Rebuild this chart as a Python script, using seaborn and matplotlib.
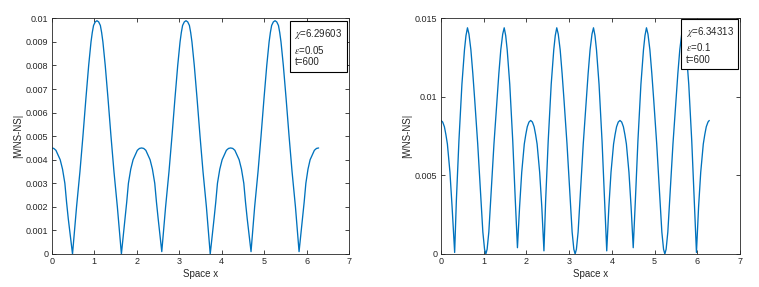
import numpy as np
import pandas as pd
import matplotlib
matplotlib.use("Agg")
import matplotlib.pyplot as plt
import seaborn as sns

# left panel: chi=6.29603, eps=0.05
x_left = [0.00, 0.05, 0.10, 0.15, 0.20, 0.255, 0.31, 0.35, 0.39, 0.49,
          0.585, 0.665, 0.735, 0.805, 0.87, 0.925, 0.955, 0.985, 1.025, 1.065,
          1.105, 1.145, 1.175, 1.205, 1.26, 1.325, 1.395, 1.465, 1.545, 1.64,
          1.725, 1.765, 1.805, 1.86, 1.915, 1.965, 2.015, 2.065, 2.115,
          2.165, 2.215, 2.265, 2.315, 2.37, 2.425, 2.465, 2.505, 2.59,
          2.68, 2.76, 2.83, 2.90, 2.965, 3.02, 3.05, 3.08, 3.12, 3.16,
          3.20, 3.24, 3.27, 3.30, 3.355, 3.42, 3.49, 3.56, 3.64, 3.73,
          3.82, 3.86, 3.90, 3.955, 4.01, 4.06, 4.11, 4.16, 4.21,
          4.26, 4.31, 4.36, 4.41, 4.465, 4.52, 4.56, 4.60, 4.69,
          4.775, 4.855, 4.925, 4.995, 5.06, 5.115, 5.145, 5.175, 5.215, 5.255,
          5.295, 5.335, 5.365, 5.395, 5.45, 5.515, 5.585, 5.655, 5.735, 5.82,
          5.90, 5.94, 5.98, 6.03, 6.08, 6.13, 6.18, 6.23, 6.28]
y_left = [0.0045, 0.00448, 0.0044, 0.0042, 0.0040, 0.0036, 0.0030, 0.0022, 0.0015, 0.0000,
          0.0020, 0.0035, 0.0050, 0.0066, 0.0080, 0.0090, 0.0094, 0.0097, 0.00985, 0.0099,
          0.00985, 0.0097, 0.0094, 0.0090, 0.0080, 0.0066, 0.0050, 0.0035, 0.0020, 0.0000,
          0.0015, 0.0022, 0.0030, 0.0036, 0.0040, 0.0042, 0.0044, 0.00448, 0.0045,
          0.00448, 0.0044, 0.0042, 0.0040, 0.0036, 0.0030, 0.0022, 0.0015, 0.0001,
          0.0020, 0.0035, 0.0050, 0.0066, 0.0080, 0.0090, 0.0094, 0.0097, 0.00985, 0.0099,
          0.00985, 0.0097, 0.0094, 0.0090, 0.0080, 0.0066, 0.0050, 0.0035, 0.0020, 0.0000,
          0.0015, 0.0022, 0.0030, 0.0036, 0.0040, 0.0042, 0.0044, 0.00448, 0.0045,
          0.00448, 0.0044, 0.0042, 0.0040, 0.0036, 0.0030, 0.0022, 0.0015, 0.0001,
          0.0020, 0.0035, 0.0050, 0.0066, 0.0080, 0.0090, 0.0094, 0.0097, 0.00985, 0.0099,
          0.00985, 0.0097, 0.0094, 0.0090, 0.0080, 0.0066, 0.0050, 0.0035, 0.0020, 0.0001,
          0.0015, 0.0022, 0.0030, 0.0036, 0.0040, 0.0042, 0.0044, 0.00448, 0.0045]

# right panel: chi=6.34313, eps=0.1
x_right = [0.00, 0.04, 0.08, 0.115, 0.15, 0.21, 0.26, 0.32,
           0.36, 0.42, 0.49, 0.55, 0.585, 0.62, 0.655, 0.70, 0.745, 0.79, 0.86, 0.93, 0.98, 1.02, 1.05,
           1.08, 1.12, 1.17, 1.24, 1.31, 1.355, 1.40, 1.445, 1.48, 1.515, 1.55, 1.61, 1.68, 1.74, 1.79,
           1.84, 1.89, 1.95, 1.985, 2.02, 2.06, 2.10, 2.14, 2.18, 2.215, 2.25, 2.31, 2.36, 2.41,
           2.45, 2.51, 2.58, 2.64, 2.675, 2.71, 2.745, 2.79, 2.835, 2.88, 2.95, 3.02, 3.07, 3.11, 3.14,
           3.17, 3.21, 3.26, 3.33, 3.40, 3.445, 3.49, 3.535, 3.57, 3.605, 3.64, 3.70, 3.77, 3.83, 3.88,
           3.93, 3.98, 4.04, 4.075, 4.11, 4.15, 4.19, 4.23, 4.27, 4.305, 4.34, 4.40, 4.45, 4.50,
           4.55, 4.61, 4.68, 4.74, 4.775, 4.81, 4.845, 4.89, 4.935, 4.98, 5.05, 5.12, 5.17, 5.21, 5.24,
           5.27, 5.31, 5.36, 5.43, 5.50, 5.545, 5.59, 5.635, 5.67, 5.705, 5.74, 5.80, 5.87, 5.93, 5.98,
           6.03, 6.08, 6.14, 6.175, 6.21, 6.25, 6.28]
y_right = [0.0085, 0.0084, 0.0081, 0.0076, 0.0070, 0.0052, 0.0030, 0.0001,
           0.0034, 0.0072, 0.0108, 0.0130, 0.0139, 0.0144, 0.0140, 0.0130, 0.0115, 0.0098, 0.0070, 0.0037, 0.0014, 0.0003, 0.0000,
           0.0003, 0.0014, 0.0037, 0.0070, 0.0098, 0.0115, 0.0130, 0.0140, 0.0144, 0.0139, 0.0130, 0.0108, 0.0072, 0.0034, 0.0004,
           0.0030, 0.0052, 0.0070, 0.0076, 0.0081, 0.0084, 0.0085, 0.0084, 0.0081, 0.0076, 0.0070, 0.0052, 0.0030, 0.0002,
           0.0034, 0.0072, 0.0108, 0.0130, 0.0139, 0.0144, 0.0140, 0.0130, 0.0115, 0.0098, 0.0070, 0.0037, 0.0014, 0.0003, 0.0000,
           0.0003, 0.0014, 0.0037, 0.0070, 0.0098, 0.0115, 0.0130, 0.0140, 0.0144, 0.0139, 0.0130, 0.0108, 0.0072, 0.0034, 0.0002,
           0.0030, 0.0052, 0.0070, 0.0076, 0.0081, 0.0084, 0.0085, 0.0084, 0.0081, 0.0076, 0.0070, 0.0052, 0.0030, 0.0004,
           0.0034, 0.0072, 0.0108, 0.0130, 0.0139, 0.0144, 0.0140, 0.0130, 0.0115, 0.0098, 0.0070, 0.0037, 0.0014, 0.0003, 0.0000,
           0.0003, 0.0014, 0.0037, 0.0070, 0.0098, 0.0115, 0.0130, 0.0140, 0.0144, 0.0139, 0.0130, 0.0108, 0.0072, 0.0034, 0.0001,
           0.0030, 0.0052, 0.0070, 0.0076, 0.0081, 0.0084, 0.0085]

left_yticks = [0, 0.001, 0.002, 0.003, 0.004, 0.005, 0.006, 0.007, 0.008, 0.009, 0.01]
left_ylabels = ["0", "0.001", "0.002", "0.003", "0.004", "0.005", "0.006", "0.007", "0.008", "0.009", "0.01"]
right_yticks = [0, 0.005, 0.01, 0.015]
right_ylabels = ["0", "0.005", "0.01", "0.015"]
left_info = "$\\chi$=6.29603\n$\\epsilon$=0.05\nt=600"
right_info = "$\\chi$=6.34313\n$\\epsilon$=0.1\nt=600"

sns.set_style("ticks")
plt.rcParams["font.family"] = ["Liberation Sans", "DejaVu Sans"]
plt.rcParams["mathtext.fontset"] = "stix"

line_color = "#0072BD"
axis_color = "#262626"

fig = plt.figure(figsize=(7.59, 2.87), dpi=100)
ax1 = fig.add_axes([0.0681, 0.115, 0.392, 0.821])
ax2 = fig.add_axes([0.581, 0.115, 0.394, 0.821])

# (axes, x, y, ymax, ticks, labels, info text, box x, box y)
panels = [
    (ax1, x_left, y_left, 0.01, left_yticks, left_ylabels, left_info, 0.977, 0.962),
    (ax2, x_right, y_right, 0.015, right_yticks, right_ylabels, right_info, 0.978, 0.972),
]

for ax, xs, ys, ymax, yt, ylab, info, bx, by in panels:
    df = pd.DataFrame({"x": xs, "y": ys})
    sns.lineplot(data=df, x="x", y="y", ax=ax, color=line_color, linewidth=0.95,
                 estimator=None, sort=False)
    ax.set_xlim(0, 7)
    ax.set_ylim(0, ymax)
    ax.set_xticks(range(8))
    ax.set_yticks(yt)
    ax.set_yticklabels(ylab)
    ax.set_xlabel("Space x", fontsize=7, color=axis_color, labelpad=2)
    ax.set_ylabel("|WNS-NS|", fontsize=7, color=axis_color, labelpad=2)
    ax.tick_params(direction="in", length=3, width=0.6, labelsize=6.5,
                   colors=axis_color, top=True, right=True, pad=2.5)
    for s in ax.spines.values():
        s.set_linewidth(0.6)
        s.set_color(axis_color)
    ax.text(bx, by, info, transform=ax.transAxes, ha="right", va="top",
            multialignment="left", fontsize=7, linespacing=1.22,
            bbox=dict(boxstyle="square,pad=0.45", fc="white", ec="black", lw=0.8))

fig.savefig("out.png", dpi=100)
